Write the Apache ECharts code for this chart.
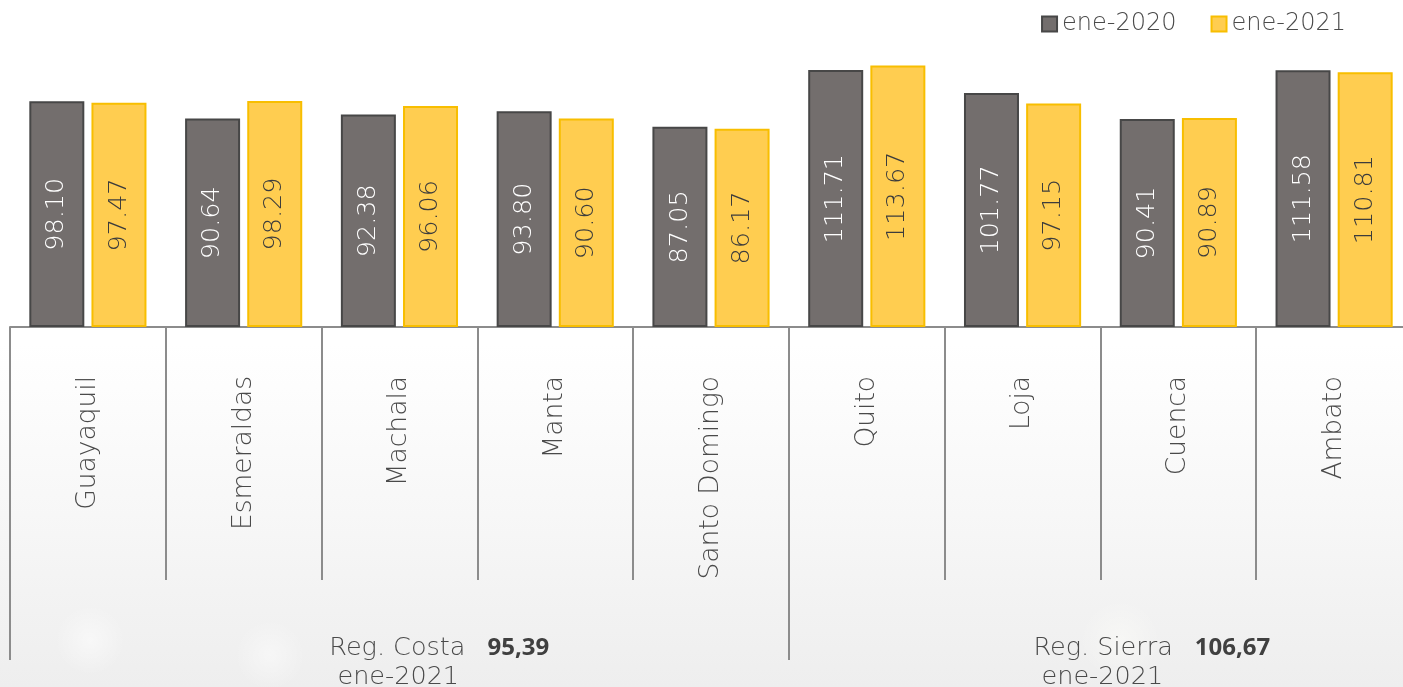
<!DOCTYPE html>
<html>
<head>
<meta charset="utf-8">
<script src="https://cdn.jsdelivr.net/npm/echarts@6/dist/echarts.min.js"></script>
<style>
html,body{margin:0;padding:0;width:1403px;height:687px;overflow:hidden;}
body{background:
 radial-gradient(circle at 90px 640px, rgba(255,255,255,0.5) 0, rgba(255,255,255,0) 35px),
 radial-gradient(circle at 270px 655px, rgba(255,255,255,0.45) 0, rgba(255,255,255,0) 35px),
 radial-gradient(circle at 1120px 640px, rgba(255,255,250,0.45) 0, rgba(255,255,255,0) 40px),
 linear-gradient(to bottom,#ffffff 0%,#ffffff 50%,#f7f7f7 75%,#eeeeee 100%);}
#chart{width:1403px;height:687px;}
</style>
</head>
<body>
<div id="chart"></div>
<script>
const categories = ['Guayaquil','Esmeraldas','Machala','Manta','Santo Domingo','Quito','Loja','Cuenca','Ambato'];
const seriesNames = ['ene-2020','ene-2021'];
const values2020 = [98.10, 90.64, 92.38, 93.80, 87.05, 111.71, 101.77, 90.41, 111.58];
const values2021 = [97.47, 98.29, 96.06, 90.60, 86.17, 113.67, 97.15, 90.89, 110.81];
const regionNames = ['Reg. Costa', 'Reg. Sierra'];
const regionValues = ['95,39', '106,67'];
const regionPeriod = 'ene-2021';
const regionBounds = [0, 5, 9];       // category index boundaries of regions
const regionLabelAt = [2.05, 6.57];   // label anchor within region (category units)

const FONT = 'DejaVu Sans';
const TEXT = '#4a4a4a';
const chart = echarts.init(document.getElementById('chart'), null, {renderer:'canvas'});
const lineColor = '#8c8c8c';

chart.setOption({
  backgroundColor: 'transparent',
  textStyle: {fontFamily: FONT},
  legend: {
    data: seriesNames,
    right: 52, top: 7,
    icon: 'rect', itemWidth: 15, itemHeight: 15, itemGap: 34, itemTextGap: 6,
    textStyle: {fontSize: 24, color: TEXT, fontFamily: FONT, fontWeight: 200}
  },
  grid: {left: 10, top: 51, width: 1402, bottom: 360, outerBoundsMode: 'none', containLabel: false},
  xAxis: [{
    type: 'category',
    data: categories,
    axisLine: {show: true, lineStyle: {color: lineColor, width: 2}},
    axisTick: {show: true, interval: 0, length: 253, lineStyle: {color: lineColor, width: 2}},
    axisLabel: {interval: 0, rotate: 90, margin: 49, fontSize: 26.5, color: TEXT, fontFamily: FONT, fontWeight: 200}
  }, {
    type: 'value',
    min: 0, max: 9,
    position: 'bottom',
    axisLine: {show: false},
    splitLine: {show: false},
    axisTick: {show: true, customValues: regionBounds, length: 333, lineStyle: {color: lineColor, width: 2}},
    axisLabel: {
      show: true,
      customValues: regionLabelAt,
      margin: 307,
      align: 'left',
      formatter: function (v) {
        const i = regionLabelAt.indexOf(v);
        return '{a|' + regionNames[i] + '}{g|}{b|' + regionValues[i] + '}\n{a| ' + regionPeriod + '}';
      },
      rich: {
        a: {fontSize: 25.5, color: TEXT, fontFamily: FONT, fontWeight: 200, lineHeight: 29},
        g: {width: 22},
        b: {fontSize: 24, color: '#404040', fontFamily: 'Open Sans', fontWeight: 'bold', lineHeight: 29}
      }
    }
  }],
  yAxis: {type: 'value', min: 0, max: 120, show: false, splitLine: {show: false}},
  series: [{
    name: seriesNames[0],
    type: 'bar',
    xAxisIndex: 0,
    data: values2020,
    barWidth: 55,
    barGap: '13%',
    itemStyle: {color: '#736e6d', borderColor: '#474747', borderWidth: 2},
    label: {show: true, position: 'inside', rotate: 90, fontSize: 25.5, color: '#ffffff', fontFamily: FONT, fontWeight: 200,
      formatter: p => p.value.toFixed(2)}
  }, {
    name: seriesNames[1],
    type: 'bar',
    xAxisIndex: 0,
    data: values2021,
    barWidth: 55,
    itemStyle: {color: '#ffcd50', borderColor: '#f8be00', borderWidth: 2},
    label: {show: true, position: 'inside', rotate: 90, fontSize: 25.5, color: '#3c3c3c', fontFamily: FONT, fontWeight: 200,
      formatter: p => p.value.toFixed(2)}
  }]
});
</script>
</body>
</html>
